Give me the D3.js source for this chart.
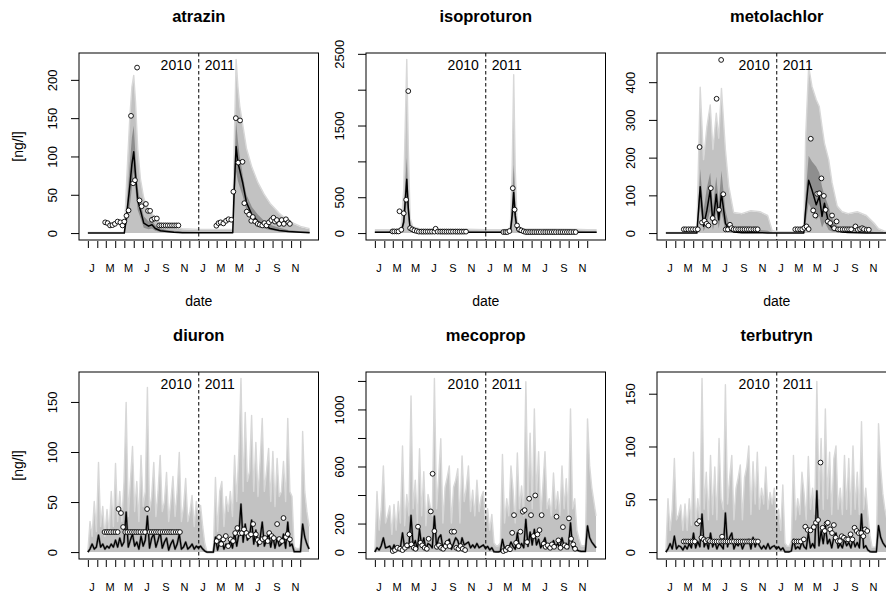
<!DOCTYPE html>
<html>
<head>
<meta charset="utf-8">
<script src="https://cdn.jsdelivr.net/npm/d3@7"></script>
<style>
  body { margin: 0; background: #fff; }
  svg { display: block; }
  text { font-family: "Liberation Sans", Arial, Helvetica, sans-serif; fill: #000; }
</style>
</head>
<body>
<svg id="chart" width="886" height="595"></svg>
<script>
// ---- data: days since 2010-01-01, concentrations in ng/l ----

// atrazin (model quantiles + observations)
const atrazinDays = [0,120,128,138,145,151,157,164,173,184, 200,211,222,239,260,283,311,365,420,477, 482,488,494,500,510,522,540,560,580,600, 630,660,700,730]
const atrazinQ95 = [0,0,70,150,190,205,170,110,70,45, 30,25,18,12,9,7,5,4,4,4, 120,226,190,165,140,110,85,65,50,38, 25,15,8,5]
const atrazinQ75 = [0,0,35,90,125,140,100,60,40,22, 15,16,10,6,4,3,2,1.5,1.5,1.5, 80,145,120,100,75,50,34,24,16,11, 7,4,2.5,2]
const atrazinMed = [0,0,25,61,90,106,75,43,30,13, 9,11,6,3,2,1,0.5,0.3,0.3,0.5, 60,113,92,82,65,40,24,15,10,6, 3.5,2,1,0.5]
const atrazinQ25 = [0,0,12,35,60,80,55,30,20,7, 5,6,3,1.5,1,0.5,0.2,0.1,0.1,0.2, 35,80,68,60,48,30,17,10,6,4, 2,1,0.5,0.2]
const atrazinObsDays = [57,65,73,81,89,98,107,114,120,127, 134,142,149,155,162,170,177,191,198,205, 211,219,227,235,242,249,256,263,270,277, 284,291,298,
  423,430,437,446,455,463,472,479,487,495, 501,509,515,523,531,538,543,551,559,566, 574,581,588,596,604,611,616,622,630,638, 645,652,660,665]
const atrazinObs = [14,13,10,10.4,12,15,14,10,15,22.6, 29.6,153,65,69,216,42.6,35,38,29,29, 17.4,19,19,10,10,10,10,10,10,10, 10,10,10,
  9.6,13,14,12.6,16,18,17.4,54,150,92, 147,93,39,28,24,16,21,15,12,11, 10,13,10,14,17,20,15,17,12,17, 12,18,14,12]

// isoproturon
const isoDays = [0,80,86,95,100,105,110,116,125,150, 200,250,300,365,420,440,446,452,457,462, 468,475,490,550,600,650,700,730]
const isoQ95 = [40,40,60,600,1500,2415,1200,200,80,50, 50,50,45,40,40,45,80,900,2200,900, 180,70,50,50,50,45,40,40]
const isoQ75 = [20,20,30,250,700,1050,500,100,40,25, 25,25,20,18,18,20,35,450,958,450, 90,35,22,22,22,20,18,18]
const isoMed = [12,12,20,150,450,750,350,60,25,15, 15,15,12,10,10,12,20,250,566,250, 50,20,12,12,12,10,10,10]
const isoQ25 = [5,5,10,60,250,420,180,25,10,6, 6,6,5,4,4,5,10,100,300,100, 20,8,5,5,5,4,4,4]
const isoObsDays = [58,64,72,78,81,87,95,103,110,116,123,130,138,
  145,153,160,167,174,181,188,196,200,207,215,222,229,236,243,250,257,265,272,279,286,293,300,
  423,430,436,443,454,460,468,475,482,490,
  497,504,511,518,525,532,539,546,554,561,568,575,582,589,596,604,611,618,625,632,639,646,654,661]
const isoObs = [23,23,23,23,304,46,276,465,1980,69,51,37,28,
  20,20,20,20,20,20,20,20,60,20,20,20,20,20,20,20,20,20,20,20,20,20,20,
  14,14,14,28,626,327,106,51,37,23,
  14,14,14,14,14,14,14,14,14,14,14,14,14,14,14,14,14,14,14,14,14,14,14,14]

// metolachlor
const metoDays = [0,102,113,124,135,146,155,166,174,183, 196,207,223,250,280,310,335,350,365,420, 454,460,470,481,495,505,514,522,536,547, 564,580,600,630,660,685,700,718,730]
const metoQ95 = [0,0,385,193,280,338,220,316,250,382, 220,123,53,50,58,55,45,5,2,2, 2,250,440,387,352,334,281,237,193,132, 70,55,50,55,45,25,10,4,2]
const metoQ75 = [0,0,170,60,120,160,70,150,80,165, 60,25,12,8,9,8,6,1,0.5,0.5, 1,100,205,190,176,160,123,100,70,40, 18,12,9,8,6,3,1.5,1,0.5]
const metoMed = [0,0,123,18,60,114,26,103,35,105, 26,9,3,1,1,1,0.5,0.3,0.3,0.3, 0.5,60,140,114,75,97,44,79,25,13, 6,3,1.5,1,0.5,0.5,0.3,0.3,0.3]
const metoQ25 = [0,0,70,5,25,60,8,55,12,55, 8,2,0.5,0,0,0,0,0,0,0, 0,25,80,60,35,45,15,30,8,4, 2,1,0.5,0,0,0,0,0,0]
const metoObsDays = [59,66,74,82,89,97,105,
  111,119,127,134,140,148,154,161,167,175,182,189,197,204,211,216,
  223,230,238,245,252,259,266,273,280,288,295,302,
  426,434,442,449,456,463,470,477,485,492,498,505,512,520,526,533,541,547,554,562,567,
  574,582,589,596,603,610,
  624,632,639,646,652,661,668]
const metoObs = [10,10,10,10,10,10,10,
  228,28,32.5,24.6,20,119,39.6,29,356,61.5,459,103,9.7,9.7,22,13,
  10,10,10,10,10,10,10,10,10,10,10,10,
  10,10,10,10,14,17.6,10.5,250,60,46.6,104,105.5,145,98.5,61.5,30.8,26.4,46.6,13,30.8,9.7,
  10,10,10,10,10,10,
  17.6,8.8,10.5,13,10.5,8.8,8.8]

// weekly model output for the rain-driven substances
const weekDays = d3.range(0, 731, 7)

// diuron
const diuronQ95 = [0,30,15,50,20,89,25,45,15,42, 18,60,25,88,30,60,30,70,149,35,
  70,105,40,70,30,96,45,60,164,40, 55,89,35,60,96,40,50,79,30,50,
  75,35,60,99,30,45,73,30,40,56, 25,50,35,
  46,25,8,0,0,0,0,74,20,60, 70,25,55,40,60,35,96,50,100,173,
  60,139,70,80,136,60,109,55,90,133, 60,80,103,50,100,45,93,55,60,90,
  50,133,60,55,5,3,3,3,120,60, 40,25]
const diuronMed = [0,3,8,3,5,17,5,8,3,6, 4,8,5,12,5,14,6,10,40,5,
  12,18,6,10,3,16,6,12,36,4, 14,18,5,12,20,4,10,14,2,8,
  12,3,8,18,3,5,10,3,5,8, 3,6,4,
  6,3,1,0,0,0,0,15,2,10, 12,3,8,5,12,4,20,6,18,48,
  10,28,12,15,32,8,22,6,14,30, 6,12,18,5,16,4,14,6,8,18,
  4,30,6,8,0.5,0.5,0.5,0.5,28,15, 8,3]
const diuronObsDays = [55,62,69,76,84,91,98, 101,109,116,
  123,130,138,145,152,159,166,173,181,188, 195,
  203,210,217,224,231,238,246,253,260,267,274,281,289,296,303,
  424,432,439,446,454,462,470,478,485,492, 500,507,514,522,529,537,544,553,559,566,
  575,583,592,597,605,612,623,630,639,644, 652,658,665]
const diuronObs = [20,20,20,20,20,20,20, 43,39,25,
  20,20,20,20,20,20,20,20,20,20, 43,
  20,20,20,20,20,20,20,20,20,20,20,20,20,20,20,
  11,15,8,12.7,16,6,12.7,11,19,24, 18.7,19,22.7,19,16,17.7,28,17.7,12,10,
  13,14,11,19,16,14,28,13,11,34, 15,18,12.7]

// mecoprop
const mecopropQ95 = [0,420,150,300,600,200,250,320,120,330, 150,350,200,740,180,400,250,1090,300,500,
  200,720,250,560,180,400,320,250,1214,300, 520,790,200,450,520,600,200,450,500,580,
  200,670,350,450,600,280,430,250,500,280, 380,420,200,
  300,150,260,60,40,40,60,680,200,370, 250,600,430,200,690,300,460,250,1190,350,
  830,300,1000,400,700,250,460,700,300,370, 250,550,300,420,250,600,300,510,250,1000,
  300,370,150,90,40,40,40,930,600,450, 350,250]
const mecopropMed = [0,30,15,45,100,30,35,42,10,50, 20,40,30,135,25,60,30,257,40,80,
  20,159,40,100,20,60,50,30,252,40, 100,120,25,60,70,90,20,60,100,80,
  25,100,50,60,70,30,50,30,60,30, 40,50,25,
  40,15,30,3,2,2,5,89,20,40, 30,70,40,20,135,30,60,30,229,40,
  140,50,159,50,90,30,60,100,30,50, 25,80,40,60,30,100,40,60,25,205,
  30,40,15,8,5,5,5,183,100,70, 50,30]
const mecopropObsDays = [59,66,74,83,91,99,106,114,120,128, 134,142,150,156,164,171,177,184,190,196,
  204,211,218,225,233,239,246,253,261,268, 275,282,289,297,
  423,431,438,445,452,458,465,473,479,487, 493,501,508,514,522,528,535,542,549,556,
  562,569,577,583,590,598,604,611,619,625, 632,639,646,653,659]
const mecopropObs = [7,14,30,23,14,30,47,124,54,30, 23,178,65,47,30,23,93,285,549,147,
  37,47,30,23,42,65,42,143,143,30, 23,42,23,14,
  7,14,30,20,135,259,65,42,143,283, 294,70,374,259,112,397,124,154,259,58,
  37,47,30,54,37,248,82,30,175,47, 37,236,93,54,23]

// terbutryn
const terbutrynQ95 = [0,50,20,40,88,30,35,44,20,45, 20,50,25,94,25,50,30,164,40,75,
  30,91,35,80,30,107,50,40,158,45, 70,91,30,60,70,82,30,70,80,100,
  35,85,45,94,40,60,45,80,40,56, 45,60,30,
  40,20,63,8,5,5,10,91,30,50, 35,75,55,30,90,40,60,35,161,50,
  107,40,135,50,94,35,88,100,40,60, 35,91,40,88,35,100,40,75,35,123,
  40,60,35,15,4,4,4,121,80,55, 40,30]
const terbutrynMed = [0,3,8,3,15,3,6,5,2,6, 3,8,4,18,4,10,5,36,5,10,
  3,18,5,10,3,8,6,3,37,5, 14,18,3,8,6,10,3,8,10,12,
  3,14,5,10,6,3,6,3,8,3, 5,6,3,
  5,2,4,0.3,0.3,0.3,1,12,3,5, 3,10,5,3,18,4,8,4,58,6,
  20,8,25,8,12,4,14,18,4,8, 4,12,6,9,4,12,5,9,4,36,
  4,6,2,0.5,0.3,0.3,0.3,25,14,9, 6,4]
const terbutrynObsDays = [59,66,73,81,88,95,103,110,117,125,131,139,145,
  153,160,167,174,182,185,189,196,203,210,217,224,232,239,246,253,260,267,274,281,289,296,303,
  423,430,437,444,454,459,467,476,487,494, 501,509,516,523,529,533,541,547,553,559,
  566,573,579,586,594,600,608,614,621,628, 635,643,650,656,663]
const terbutrynObs = [10,10,10,10,10,10,27,29.4,13.6,12,10.4,11.4,10.4,
  10,10,10,10,10,14.6,10,10,10,10,10,10,10,10,10,10,10,10,10,10,10,10,10,
  10,10,10,10,12,24,21,20.6,23.7,27.8, 30.4,84.8,23,20,27,27.8,21.5,18,25.6,13.6,
  10.4,10.4,15,13.6,12,12,16.8,12,23,20, 18,18,15,21.5,20]

// axis ticks
const monthLetters = ["J", "M", "M", "J", "S", "N"]
const yTicks = {
  atrazin: [0, 50, 100, 150, 200],
  isoproturon: [0, 500, 1000, 1500, 2000, 2500],
  metolachlor: [0, 100, 200, 300, 400],
  diuron: [0, 50, 100, 150],
  mecoprop: [0, 200, 400, 600, 800, 1000, 1200],
  terbutryn: [0, 50, 100, 150]
}
const yLabels = {
  atrazin: [0, 50, 100, 150, 200],
  isoproturon: [0, 500, 1500, 2500],
  metolachlor: [0, 100, 200, 300, 400],
  diuron: [0, 50, 100, 150],
  mecoprop: [0, 200, 600, 1000],
  terbutryn: [0, 50, 100, 150]
}

const panels = [
  {name: "atrazin", days: atrazinDays, q95: atrazinQ95, q75: atrazinQ75, med: atrazinMed, q25: atrazinQ25, obsDays: atrazinObsDays, obs: atrazinObs},
  {name: "isoproturon", days: isoDays, q95: isoQ95, q75: isoQ75, med: isoMed, q25: isoQ25, obsDays: isoObsDays, obs: isoObs},
  {name: "metolachlor", days: metoDays, q95: metoQ95, q75: metoQ75, med: metoMed, q25: metoQ25, obsDays: metoObsDays, obs: metoObs},
  {name: "diuron", days: weekDays, q95: diuronQ95, med: diuronMed, obsDays: diuronObsDays, obs: diuronObs},
  {name: "mecoprop", days: weekDays, q95: mecopropQ95, med: mecopropMed, obsDays: mecopropObsDays, obs: mecopropObs},
  {name: "terbutryn", days: weekDays, q95: terbutrynQ95, med: terbutrynMed, obsDays: terbutrynObsDays, obs: terbutrynObs}
]

// ---- layout ----
const W = 886, H = 595
const colLeft = [79, 366, 657]
const rowTop = [53, 372]
const boxW = 239.5, boxH = 187

const t0 = new Date(2010, 0, 1)
const t1 = new Date(2012, 0, 1)
const split = new Date(2011, 0, 1)
const toDate = d => d3.timeDay.offset(t0, d)
const months = d3.timeMonth.range(t0, t1)

const svg = d3.select("#chart")

panels.forEach((p, k) => {
  const left = colLeft[k % 3], top = rowTop[Math.floor(k / 3)]
  const bottom = top + boxH
  const g = svg.append("g").attr("class", "panel " + p.name)

  // R-style 4% padding on both axes
  const pad = (t1 - t0) * 0.04
  const x = d3.scaleTime()
    .domain([new Date(+t0 - pad), new Date(+t1 + pad)])
    .range([left, left + boxW])
  const ymax = d3.max(p.q95.concat(p.obs))
  const y = d3.scaleLinear()
    .domain([-0.04 * ymax, 1.04 * ymax])
    .range([bottom, top])

  const rows = p.days.map((d, i) => ({
    date: toDate(d), q95: p.q95[i], med: p.med[i],
    q75: p.q75 ? p.q75[i] : null, q25: p.q25 ? p.q25[i] : null
  }))

  // outer band
  g.append("path")
    .datum(rows)
    .attr("fill", "#c2c2c2")
    .attr("d", d3.area().x(d => x(d.date)).y0(y(0)).y1(d => y(d.q95)))
  g.append("path")
    .datum(rows)
    .attr("fill", "none")
    .attr("stroke", "#d8d8d8")
    .attr("stroke-width", 1.4)
    .attr("stroke-linejoin", "round")
    .attr("d", d3.line().x(d => x(d.date)).y(d => y(d.q95) - 0.6))

  // inner band
  if (p.q75) {
    g.append("path")
      .datum(rows)
      .attr("fill", "#8e8e8e")
      .attr("d", d3.area().x(d => x(d.date)).y0(d => y(d.q25)).y1(d => y(d.q75)))
  } else {
    g.append("path")
      .datum(rows)
      .attr("fill", "none")
      .attr("stroke", "#808080")
      .attr("stroke-width", 2.3)
      .attr("stroke-linejoin", "round")
      .attr("d", d3.line().x(d => x(d.date)).y(d => y(d.med)))
  }

  // median
  g.append("path")
    .datum(rows)
    .attr("fill", "none")
    .attr("stroke", "#000")
    .attr("stroke-width", p.q75 ? 1.5 : 1.25)
    .attr("stroke-linejoin", "round")
    .attr("d", d3.line().x(d => x(d.date)).y(d => y(d.med)))

  // year separator
  g.append("line")
    .attr("x1", x(split)).attr("x2", x(split))
    .attr("y1", top).attr("y2", bottom)
    .attr("stroke", "#000").attr("stroke-width", 1)
    .attr("stroke-dasharray", "3.5,2.5")
  g.append("text")
    .attr("x", x(split) - 7).attr("y", top + 17)
    .attr("text-anchor", "end").style("font-size", "14px")
    .text("2010")
  g.append("text")
    .attr("x", x(split) + 6).attr("y", top + 17)
    .attr("text-anchor", "start").style("font-size", "14px")
    .text("2011")

  // observations
  g.selectAll("circle.obs")
    .data(p.obsDays.map((d, i) => ({date: toDate(d), v: p.obs[i]})))
    .enter().append("circle")
      .attr("class", "obs")
      .attr("cx", d => x(d.date))
      .attr("cy", d => y(d.v))
      .attr("r", 2.4)
      .attr("fill", "#fff")
      .attr("stroke", "#000")
      .attr("stroke-width", 0.9)

  // box
  g.append("rect")
    .attr("x", left).attr("y", top)
    .attr("width", boxW).attr("height", boxH)
    .attr("fill", "none").attr("stroke", "#000").attr("stroke-width", 1)

  // y axis
  const yaxis = g.append("g")
    .attr("transform", "translate(" + left + ",0)")
    .call(d3.axisLeft(y)
      .tickValues(yTicks[p.name])
      .tickSize(8)
      .tickFormat(v => yLabels[p.name].includes(v) ? v : ""))
  yaxis.select(".domain").remove()
  yaxis.selectAll(".tick line").attr("stroke", "#000")
  yaxis.selectAll(".tick text")
    .attr("transform", "rotate(-90)")
    .attr("x", 0).attr("y", -27).attr("dy", "0.36em")
    .attr("text-anchor", "middle")
    .style("font-size", "13px")
    .style("font-family", "'Liberation Sans', Arial, sans-serif")
    .attr("fill", "#000")

  // x axis
  const xaxis = g.append("g")
    .attr("transform", "translate(0," + (bottom + 1) + ")")
    .call(d3.axisBottom(x).tickValues(months).tickSize(7).tickFormat(""))
  xaxis.select(".domain").remove()
  xaxis.selectAll(".tick line").attr("stroke", "#000")

  const labelMonths = months.filter((m, i) => i % 2 === 0)
  g.selectAll("text.month")
    .data(labelMonths)
    .enter().append("text")
      .attr("class", "month")
      .attr("x", d => x(d3.timeDay.offset(d, 14)))
      .attr("y", bottom + 32)
      .attr("text-anchor", "middle")
      .style("font-size", "11px")
      .text((d, i) => monthLetters[i % 6])

  // titles and axis names
  g.append("text")
    .attr("x", left + boxW / 2).attr("y", top - 31)
    .attr("text-anchor", "middle")
    .style("font-size", "16.5px").style("font-weight", "bold")
    .text(p.name)
  if (bottom + 66 < H) {
    g.append("text")
      .attr("x", left + boxW / 2).attr("y", bottom + 66)
      .attr("text-anchor", "middle").style("font-size", "14px")
      .text("date")
  }
  if (k % 3 === 0) {
    g.append("text")
      .attr("transform", "translate(18," + (top + boxH / 2) + ") rotate(-90)")
      .attr("text-anchor", "middle").attr("dy", "0.36em")
      .style("font-size", "14px")
      .text("[ng/l]")
  }
})
</script>
</body>
</html>
